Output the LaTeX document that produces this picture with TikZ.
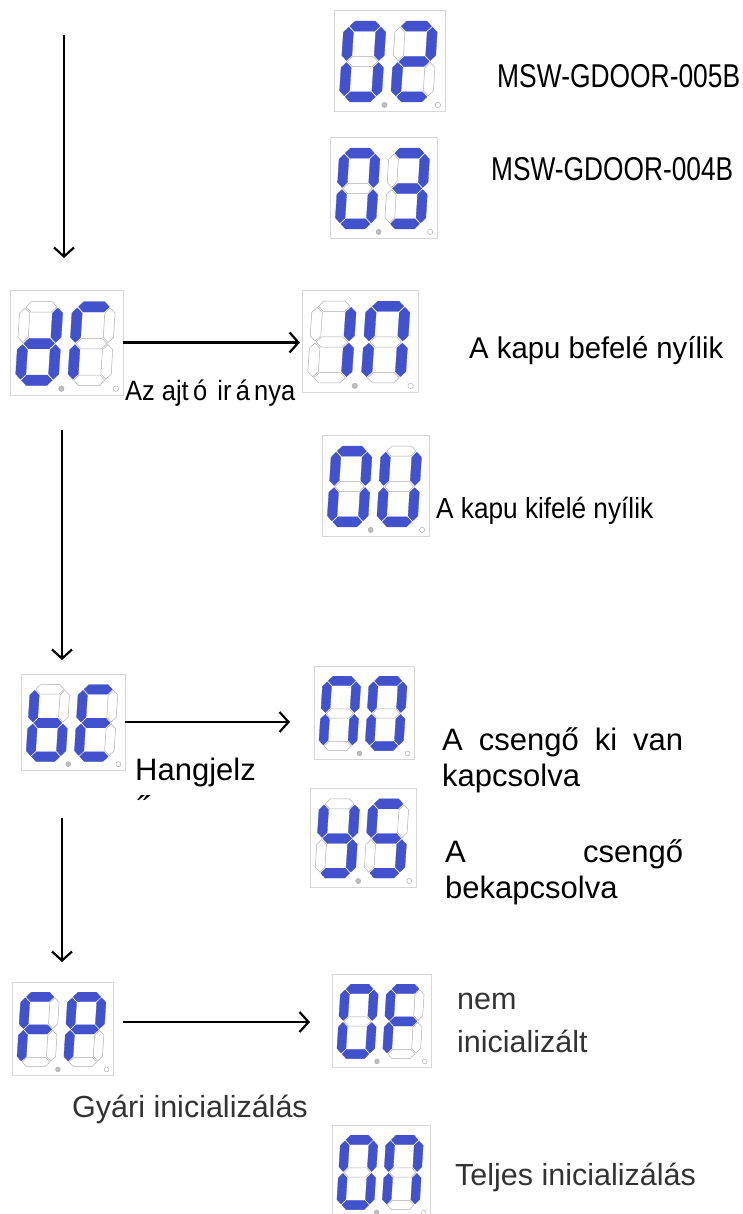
\documentclass[tikz,border=0pt]{standalone}
\usepackage{fontspec}
\setmainfont{Liberation Sans}
\usepackage{graphicx}
\usetikzlibrary{arrows.meta}
\definecolor{segblue}{RGB}{66,82,204}
\definecolor{segoff}{RGB}{175,175,175}
\definecolor{boxgray}{RGB}{215,215,215}
\definecolor{dotgray}{RGB}{190,190,190}
\definecolor{txtgray}{RGB}{51,51,51}
\newcommand\fs[1]{\fontsize{#1}{#1}\selectfont}
\tikzset{
  S1/.style={fill=segblue, draw=segblue, line width=0.3pt},
  S0/.style={fill=white, draw=segoff, line width=0.5pt},
  dispbox/.style={draw=boxgray, line width=0.8pt, inner sep=0pt, outer sep=0pt, fill=white},
  arr/.style={line width=2.2pt, -{Straight Barb[length=9pt, width=20pt, line width=2.2pt]}},
  lbl/.style={inner sep=0pt, anchor=base west},
}
\newcommand\sdig[7]{%
 \filldraw[S#1] (6,5)--(11,0)--(31,0)--(36,5)--(31,10)--(11,10)--cycle;
 \filldraw[S#2] (37,6)--(42,11)--(42,34)--(37,39)--(32,34)--(32,11)--cycle;
 \filldraw[S#3] (37,41)--(42,46)--(42,69)--(37,74)--(32,69)--(32,46)--cycle;
 \filldraw[S#4] (6,75)--(11,70)--(31,70)--(36,75)--(31,80)--(11,80)--cycle;
 \filldraw[S#5] (5,41)--(10,46)--(10,69)--(5,74)--(0,69)--(0,46)--cycle;
 \filldraw[S#6] (5,6)--(10,11)--(10,34)--(5,39)--(0,34)--(0,11)--cycle;
 \filldraw[S#7] (6,40)--(11,35)--(31,35)--(36,40)--(31,45)--(11,45)--cycle;
}
\newcommand\display[7]{%
 \node[dispbox, minimum width=#4pt, minimum height=#5pt, anchor=north west] (#1) at (#2,#3) {};
 \begin{scope}[shift={(#2,#3)}, xscale=#4/110, yscale=#5/100]
   \begin{scope}[shift={(10,11)}, xslant=0.065] \sdig#6 \end{scope}
   \begin{scope}[shift={(61,11)}, xslant=0.065] \sdig#7 \end{scope}
   \filldraw[fill=dotgray, draw=segoff, line width=0.5pt] (50,94) circle (2.6);
   \filldraw[fill=white, draw=segoff, line width=0.5pt] (103,94) circle (2.6);
 \end{scope}
}
\begin{document}
\begin{tikzpicture}[x=1pt, y=-1pt]
\fill[white] (0,0) rectangle (743,1214);
\useasboundingbox (0,0) rectangle (743,1214);

% displays
\display{d02}{334}{10}{111}{101}{1111110}{1101101}
\display{d03}{330}{137}{107}{101}{1111110}{1111001}
\display{ddC}{10}{290}{113}{105}{0111101}{1000110}
\display{d1n}{302}{290}{116}{102}{0110000}{1110110}
\display{d0U}{322}{435}{107}{101}{1111110}{0111110}
\display{dbE}{21}{674}{104}{96}{0011111}{1001111}
\display{dn0}{314}{666}{100}{93}{1110110}{1111110}
\display{d4S}{310}{788}{106}{99}{0111011}{1011011}
\display{dFP}{12}{982}{101}{93}{1000111}{1100111}
\display{d0F}{332}{974}{99}{93}{1111110}{1000111}
\display{d0n}{332}{1125}{98}{93}{1111110}{1110110}

% vertical arrows
\coordinate (v1s) at (64,35);  \coordinate (v1e) at (64,258);
\coordinate (v2s) at (62,430); \coordinate (v2e) at (62,660);
\coordinate (v3s) at (62,818); \coordinate (v3e) at (62,962);
\draw[arr] (v1s) -- (v1e);
\draw[arr] (v2s) -- (v2e);
\draw[arr] (v3s) -- (v3e);

% horizontal arrows
\draw[arr, shorten >=2pt] (ddC.east) -- (ddC.east -| d1n.west);
\draw[arr, shorten >=24pt] (dbE.east) -- (dbE.east -| dn0.west);
\coordinate (h3s) at (123,1022);
\draw[arr, shorten >=22pt] (h3s) -- (h3s -| d0F.west);

% labels
\node[lbl] (t005) at (497,88) {\resizebox{243pt}{\height}{\fs{33}MSW-GDOOR-005B}};
\node[lbl] (t004) at (491,181) {\resizebox{242pt}{\height}{\fs{33}MSW-GDOOR-004B}};
\node[lbl] (tbe) at (469,358) {\resizebox{254pt}{\height}{\fs{30}A kapu befelé nyílik}};
\node[lbl] (taj) at (125,400) {\resizebox{170pt}{\height}{\fs{28}Az ajt\,ó\hspace{0.4em}ir\,á\,nya}};
\node[lbl] (tki) at (436,518) {\resizebox{217pt}{\height}{\fs{29}A kapu kifelé nyílik}};
\node[lbl] (thj) at (135,780) {\fs{31}Hangjelz};
\node[lbl] (thj2) at (137,820) {\fs{34}˝};
\node[lbl] (tc1) at (442,750) {\fs{31}\makebox[241pt][s]{A\hfill csengő\hfill ki\hfill van}};
\node[lbl] (tc2) at (442,786) {\fs{31}kapcsolva};
\node[lbl] (tc3) at (445,862) {\fs{31}\makebox[238pt][s]{A\hfill csengő}};
\node[lbl] (tc4) at (445,898) {\fs{31}bekapcsolva};
\node[lbl, text=txtgray] (tgy) at (72,1117) {\fs{30.5}Gyári inicializálás};
\node[lbl, text=txtgray] (tnem) at (457,1009) {\fs{30.5}nem};
\node[lbl, text=txtgray] (tini) at (457,1052) {\fs{30.5}inicializált};
\node[lbl, text=txtgray] (ttel) at (455,1185) {\fs{30.5}Teljes inicializálás};
\end{tikzpicture}
\end{document}
